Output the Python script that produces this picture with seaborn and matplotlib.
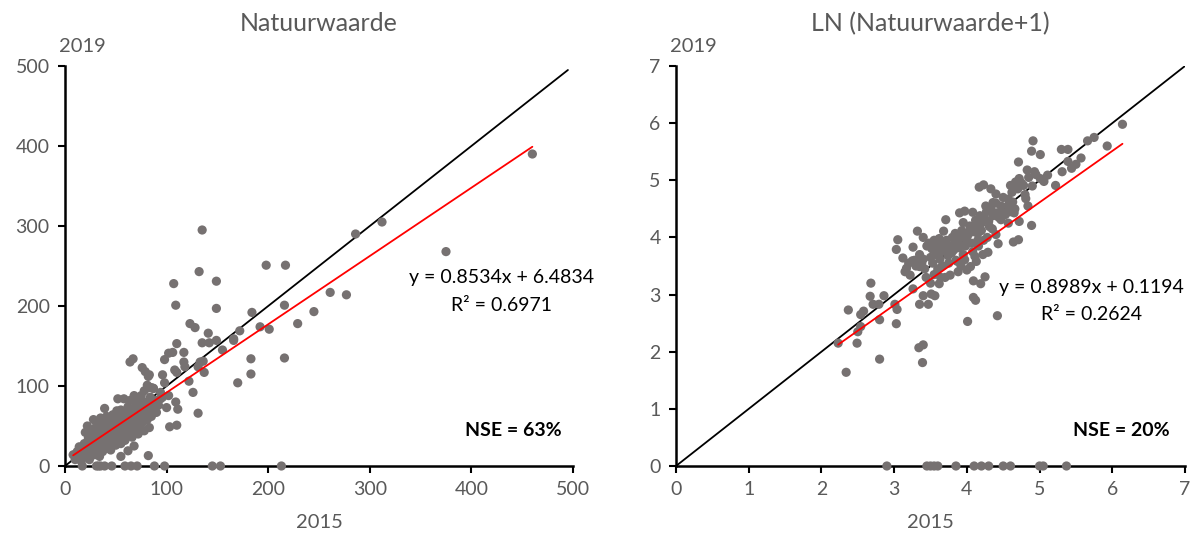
import matplotlib
matplotlib.use("Agg")
import matplotlib.pyplot as plt
import seaborn as sns
import pandas as pd

# ---- Natuurwaarde: 2015 vs 2019 ----
nw_2015 = [
    460, 312, 286, 375, 135, 132, 149, 107, 198, 217, 109, 149, 216, 184, 245, 261, 277, 229, 123, 128,
    192, 201, 172, 166, 141, 135, 142, 149, 155, 110, 183, 216, 183, 170, 137, 136, 131, 117, 117, 102,
    106, 98, 64, 67, 76, 79, 108, 110, 122, 126, 131, 96, 98, 83, 81, 85, 109, 111, 100, 103,
    110, 82, 83, 73, 90, 81, 94, 102, 68, 55, 62, 51, 39, 166, 118, 82, 87, 133, 96, 88,
    # dense cluster
    8, 10, 12, 13, 14, 15, 16, 17, 18, 19, 20, 21, 22, 22, 23, 24, 25, 25, 26, 27, 28, 28, 29, 30, 30,
    31, 32, 32, 33, 34, 34, 35, 35, 36, 37, 37, 38, 39, 39, 40, 40, 41, 41, 42, 42, 43, 44, 44, 45, 45,
    46, 47, 47, 48, 48, 49, 50, 50,
    51, 51, 52, 52, 53, 54, 54, 55, 55, 56, 57, 57, 58, 58, 59, 60, 60, 61, 62, 62, 63, 64, 64, 65, 66,
    66, 67, 68, 68, 69, 70, 70,
    71, 72, 72, 73, 74, 75, 75, 76, 77, 78, 78, 79, 80, 81, 82, 82, 84, 85, 86, 87, 88, 90, 92, 94,
    # zero values in 2019
    17, 31, 33, 35, 39, 46, 59, 65, 71, 88, 98, 145, 153, 213,
]
nw_2019 = [
    390, 305, 290, 268, 295, 243, 231, 228, 251, 251, 201, 197, 201, 192, 193, 217, 214, 178, 178, 173,
    174, 171, 169, 159, 166, 154, 154, 157, 145, 153, 134, 135, 115, 104, 117, 131, 124, 142, 130, 141,
    142, 133, 130, 134, 123, 118, 120, 117, 106, 92, 66, 114, 104, 114, 101, 98, 80, 71, 73, 49,
    51, 13, 48, 43, 67, 64, 84, 88, 25, 12, 19, 69, 72, 157, 124, 112, 97, 130, 86, 80,
    14, 8, 18, 10, 24, 15, 6, 20, 12, 28, 42, 22, 16, 50, 35, 8, 30, 45, 20, 38, 58, 26, 14, 48, 33,
    40, 22, 55, 30, 45, 12, 36, 60, 26, 50, 18, 42, 32, 57, 48, 22, 38, 62, 28, 52, 44, 34, 58, 40, 20,
    50, 30, 64, 45, 36, 55, 26, 42,
    60, 50, 34, 84, 46, 56, 38, 70, 28, 48, 62, 40, 54, 84, 32, 66, 46, 56, 74, 40, 52, 62, 82, 48, 70,
    36, 58, 88, 44, 66, 52, 76,
    60, 40, 82, 70, 48, 88, 62, 54, 74, 94, 44, 66, 80, 58, 98, 72, 86, 62, 76, 97, 70, 82, 76, 92,
    0, 0, 0, 0, 0, 0, 0, 0, 0, 0, 0, 0, 0, 0,
]

# ---- LN(Natuurwaarde + 1): 2015 vs 2019 ----
ln_2015 = [
    6.14, 5.93, 5.75, 5.66, 5.57, 5.50, 5.44, 5.39, 5.39, 5.30, 5.31, 5.22, 5.11, 5.01, 4.91, 4.89, 4.71,
    4.83, 4.93, 5.01, 5.06, 4.89, 4.71, 4.64, 4.72, 4.84, 4.81, 4.43, 4.42, 4.29, 4.25, 4.19, 4.12, 4.09,
    4.09, 4.01, 4.13, 4.11, 4.05, 4.00, 3.88, 3.77, 3.64, 3.62, 3.56, 3.51, 3.47, 3.35, 3.40, 3.26, 3.40,
    3.34, 3.39, 3.03, 3.04, 3.01, 2.86, 2.80, 2.80, 2.68, 2.67, 2.71, 2.79, 2.58, 2.54, 2.54, 2.50, 2.37,
    2.49, 2.23, 2.34, 3.05, 3.03, 3.12, 3.17, 3.22, 3.26, 3.25, 3.32, 3.35, 3.40, 3.40, 3.71, 3.68, 3.90,
    3.97, 4.08, 3.95, 4.17, 4.23, 4.33, 4.40, 4.26, 4.36, 4.47, 4.57, 4.60, 4.67, 4.72, 4.78, 4.62, 4.54,
    4.47, 4.57, 4.65, 4.41, 4.31, 4.20, 4.15, 4.15, 4.23, 4.05, 4.00, 3.92, 3.84, 3.84, 3.79, 3.89, 3.95,
    3.87, 3.97,
    # dense cluster
    3.48, 3.52, 3.55, 3.58, 3.60, 3.62, 3.65, 3.67, 3.50, 3.45, 3.53, 3.57, 3.63, 3.70, 3.72, 3.74, 3.78,
    3.80, 3.82, 3.86, 3.88, 3.90, 3.93, 3.96, 3.98, 4.02, 4.04, 4.06, 4.10, 4.12, 4.14, 4.18, 4.20, 4.24,
    4.27, 4.30, 4.33, 4.36, 4.40, 4.44, 4.48, 4.50, 4.53, 4.56, 4.60, 4.63, 4.66, 4.70, 4.75, 4.80, 4.85,
    4.90, 4.95, 3.42, 3.38, 3.30, 3.35, 3.28, 3.44, 3.50, 3.55, 3.60, 3.66, 3.70, 3.75, 3.85, 3.92, 4.08,
    4.16, 4.22, 4.28, 4.35, 4.40, 3.20, 3.15,
    # zero values in 2019
    2.90, 3.45, 3.50, 3.55, 3.60, 3.85, 4.10, 4.20, 4.30, 4.50, 4.60, 5.00, 5.05, 5.37,
]
ln_2019 = [
    5.98, 5.60, 5.75, 5.69, 5.39, 5.28, 5.21, 5.33, 5.54, 5.54, 5.15, 4.91, 5.09, 5.45, 5.69, 5.51, 5.32,
    5.18, 5.15, 5.03, 4.98, 4.21, 3.96, 3.92, 4.28, 4.55, 4.68, 3.89, 2.63, 3.74, 3.31, 3.19, 2.90, 2.95,
    3.24, 2.53, 3.58, 3.67, 3.49, 3.43, 3.40, 3.34, 3.30, 3.19, 2.98, 3.01, 2.83, 2.83, 2.98, 3.10, 2.12,
    2.07, 1.81, 2.49, 2.74, 2.83, 2.98, 2.56, 1.87, 3.20, 2.97, 2.83, 2.83, 2.71, 2.65, 2.44, 2.35, 2.73,
    2.15, 2.15, 1.64, 3.96, 3.79, 3.64, 3.46, 3.34, 3.83, 3.59, 4.11, 3.49, 4.00, 3.62, 4.31, 4.11, 4.43,
    4.46, 4.44, 4.26, 4.88, 4.92, 4.85, 4.76, 4.55, 4.61, 4.55, 4.67, 4.91, 4.97, 5.03, 4.91, 4.79, 4.43,
    4.31, 4.25, 4.43, 4.43, 4.19, 4.25, 4.07, 3.95, 3.95, 4.13, 3.95, 4.01, 4.07, 3.89, 3.73, 3.82, 3.70,
    3.58, 3.61,
    3.90, 3.80, 3.95, 3.70, 3.85, 3.98, 3.75, 3.90, 3.65, 3.85, 3.55, 3.88, 3.62, 3.80, 3.95, 3.68, 3.85,
    4.00, 3.78, 3.92, 4.05, 3.88, 4.12, 4.00, 3.85, 4.05, 4.20, 3.90, 4.10, 4.30, 4.18, 4.38, 4.12, 4.35,
    4.45, 4.28, 4.50, 4.38, 4.60, 4.35, 4.45, 4.70, 4.40, 4.55, 4.45, 4.62, 4.50, 4.85, 4.95, 4.75, 5.05,
    4.90, 5.10, 3.45, 3.55, 3.50, 3.70, 3.60, 3.30, 3.20, 3.35, 3.45, 3.50, 3.30, 3.55, 3.60, 3.50, 3.75,
    3.85, 3.70, 4.00, 4.15, 4.05, 3.55, 3.40,
    0, 0, 0, 0, 0, 0, 0, 0, 0, 0, 0, 0, 0, 0,
]

# Trend lines as reported in the equations
nw_slope, nw_intercept, nw_r2, nw_nse = 0.8534, 6.4834, 0.6971, 63
ln_slope, ln_intercept, ln_r2, ln_nse = 0.8989, 0.1194, 0.2624, 20

panels = [
    dict(title="Natuurwaarde", x=nw_2015, y=nw_2019, lim=500, ticks=range(0, 501, 100),
         ident_end=495, slope=nw_slope, intercept=nw_intercept, r2=nw_r2, nse=nw_nse,
         eq_pos=(430, 235, 201), nse_pos=(441, 45)),
    dict(title="LN (Natuurwaarde+1)", x=ln_2015, y=ln_2019, lim=7, ticks=range(0, 8),
         ident_end=7, slope=ln_slope, intercept=ln_intercept, r2=ln_r2, nse=ln_nse,
         eq_pos=(5.71, 3.13, 2.66), nse_pos=(6.13, 0.63)),
]

sns.set_theme(style="white")
plt.rcParams["font.family"] = ["Lato", "DejaVu Sans"]

GREY_TXT = "#595959"
DOT = "#767171"

fig = plt.figure(figsize=(11.91, 5.40), dpi=100)
axes_rects = [
    [65 / 1191, 1 - 466 / 540, 508 / 1191, 400 / 540],
    [676 / 1191, 1 - 466 / 540, 509 / 1191, 400 / 540],
]

for rect, p in zip(axes_rects, panels):
    ax = fig.add_axes(rect)
    df = pd.DataFrame({"x2015": p["x"], "y2019": p["y"]})

    # identity line
    ident = pd.DataFrame({"x": [0, p["ident_end"]], "y": [0, p["ident_end"]]})
    sns.lineplot(data=ident, x="x", y="y", ax=ax, color="black", linewidth=1.3, zorder=2)

    sns.scatterplot(data=df, x="x2015", y="y2019", ax=ax, color=DOT, s=44,
                    edgecolor="none", linewidth=0, zorder=3, clip_on=False)

    # linear trend from the reported coefficients, spanning the 2015 range
    xmin, xmax = df["x2015"].min(), df["x2015"].max()
    trend = pd.DataFrame({"x": [xmin, xmax]})
    trend["y"] = p["slope"] * trend["x"] + p["intercept"]
    sns.lineplot(data=trend, x="x", y="y", ax=ax, color="#FF0000", linewidth=1.3, zorder=4)

    ax.set_xlim(0, p["lim"])
    ax.set_ylim(0, p["lim"])
    ax.set_xticks(list(p["ticks"]))
    ax.set_yticks(list(p["ticks"]))
    ax.set_xlabel("")
    ax.set_ylabel("")
    ax.grid(False)

    for side in ("top", "right"):
        ax.spines[side].set_visible(False)
    for side in ("left", "bottom"):
        ax.spines[side].set_color("black")
        ax.spines[side].set_linewidth(1.8)
    ax.tick_params(axis="both", direction="out", length=5, width=1.5, color="black",
                   labelsize=14, labelcolor=GREY_TXT, pad=6, bottom=True, left=True)

    ax.set_title(p["title"], fontsize=18, color=GREY_TXT, pad=25)
    ax.text(0.035, 1.05, "2019", transform=ax.transAxes, fontsize=14.5,
            color=GREY_TXT, ha="center", va="center")
    ax.text(0.5, -0.14, "2015", transform=ax.transAxes, fontsize=14.5,
            color=GREY_TXT, ha="center", va="center")

    ex, ey1, ey2 = p["eq_pos"]
    ax.text(ex, ey1, f"y = {p['slope']:.4f}x + {p['intercept']:.4f}", fontsize=14,
            color="black", ha="center", va="center", clip_on=False)
    ax.text(ex, ey2, f"R² = {p['r2']:.4f}", fontsize=14,
            color="black", ha="center", va="center", clip_on=False)
    nx, ny = p["nse_pos"]
    ax.text(nx, ny, f"NSE = {p['nse']}%", fontsize=14, fontweight="bold",
            color="black", ha="center", va="center")

fig.savefig("out.png", dpi=100, facecolor="white")
